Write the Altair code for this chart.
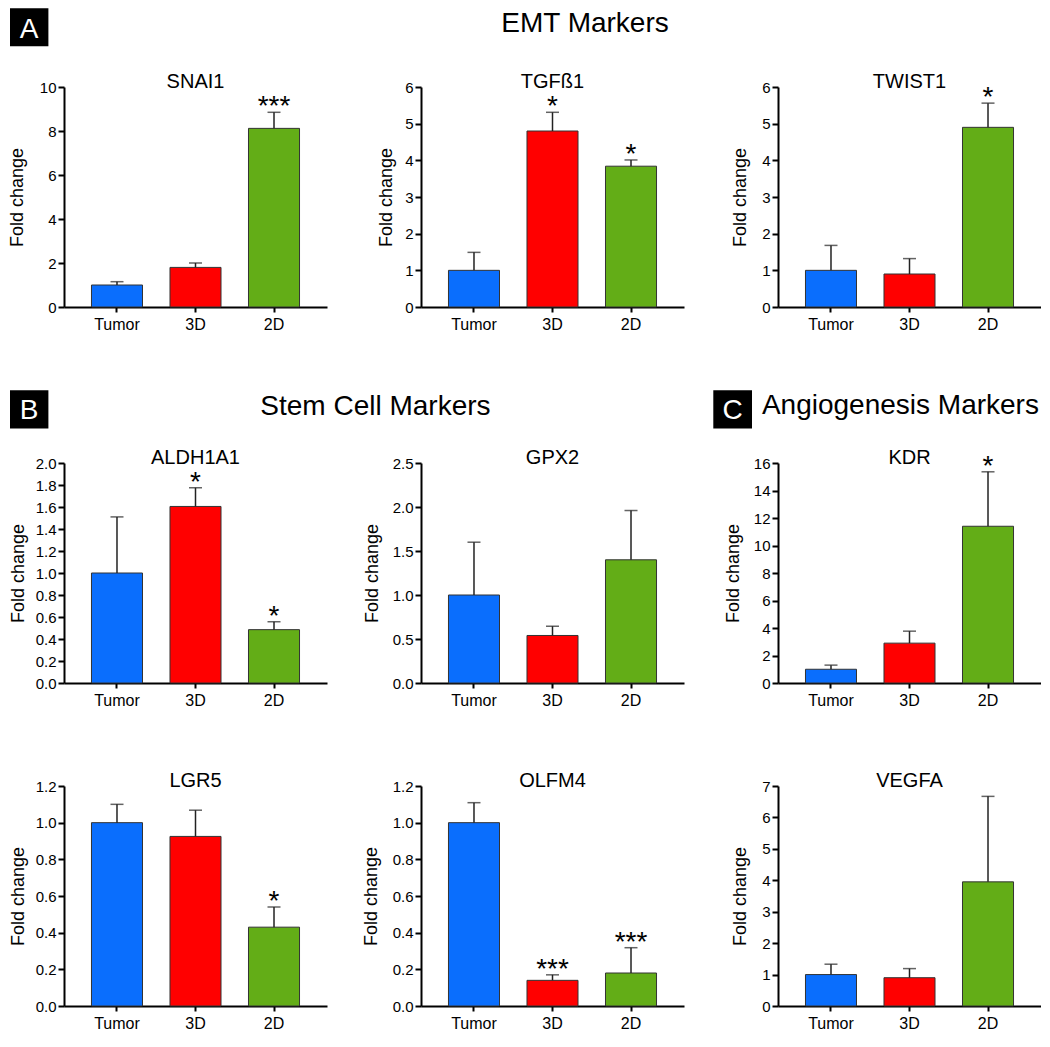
import altair as alt
import pandas as pd

GROUPS = ["Tumor", "3D", "2D"]
COLORS = ["#0A6EFD", "#FF0000", "#63AD17"]
Y_TITLE = "Fold change"
HEADERS = ["A", "EMT Markers", "B", "Stem Cell Markers", "C", "Angiogenesis Markers"]

# values: bar mean and top of error bar
SNAI1_MEAN = [1.0, 1.8, 8.12]
SNAI1_UPPER = [1.15, 2.0, 8.85]
SNAI1_SIG = ["", "", "***"]

TGFB1_MEAN = [1.0, 4.8, 3.84]
TGFB1_UPPER = [1.49, 5.31, 4.01]
TGFB1_SIG = ["", "*", "*"]

TWIST1_MEAN = [1.0, 0.9, 4.9]
TWIST1_UPPER = [1.68, 1.32, 5.56]
TWIST1_SIG = ["", "", "*"]

ALDH1A1_MEAN = [1.0, 1.605, 0.485]
ALDH1A1_UPPER = [1.51, 1.775, 0.557]
ALDH1A1_SIG = ["", "*", "*"]

GPX2_MEAN = [1.0, 0.54, 1.40]
GPX2_UPPER = [1.60, 0.645, 1.96]
GPX2_SIG = ["", "", ""]

KDR_MEAN = [1.0, 2.9, 11.4]
KDR_UPPER = [1.3, 3.77, 15.36]
KDR_SIG = ["", "", "*"]

LGR5_MEAN = [1.0, 0.925, 0.43]
LGR5_UPPER = [1.10, 1.068, 0.54]
LGR5_SIG = ["", "", "*"]

OLFM4_MEAN = [1.0, 0.14, 0.18]
OLFM4_UPPER = [1.109, 0.17, 0.318]
OLFM4_SIG = ["", "***", "***"]

VEGFA_MEAN = [1.0, 0.9, 3.95]
VEGFA_UPPER = [1.33, 1.19, 6.67]
VEGFA_SIG = ["", "", ""]

W, H, EXTRA = 263, 220, 53
FONT = "Liberation Sans"
ERR = "#222222"


def one_text(t, x, y, size, color="black", align="center"):
    return alt.Chart(pd.DataFrame({"t": [t]})).mark_text(
        font=FONT, fontSize=size, color=color, align=align, baseline="alphabetic"
    ).encode(x=alt.value(x), y=alt.value(y), text="t:N")


def box(tag, x1, x2, y1, y2):
    return alt.Chart(pd.DataFrame({"t": [tag]})).mark_rect(color="black").encode(
        x=alt.value(x1), x2=alt.value(x2), y=alt.value(y1), y2=alt.value(y2)
    )


def panel(name, mean, upper, sig, ymax, step, fmt, title_x, top=0, extras=()):
    df = pd.DataFrame({"group": GROUPS, "mean": mean, "upper": upper, "sig": sig})
    n = int(round(ymax / step))
    ticks = [round(i * step, 2) for i in range(n + 1)]
    h = H + top
    yscale = alt.Scale(domain=[0, ymax], nice=False, zero=True, range=[h, top])
    yaxis = alt.Axis(
        values=ticks, format=fmt, title=Y_TITLE, titleX=title_x, titleY=top + H / 2,
        titleAngle=270, titleAlign="center", titleBaseline="bottom",
        labelFontSize=15, titleFontSize=18, tickSize=6, labelPadding=2,
    )
    x = alt.X(
        "group:N", sort=GROUPS,
        scale=alt.Scale(paddingInner=0.35, paddingOuter=0.35),
        axis=alt.Axis(title=None, labelAngle=0, labelFontSize=16, tickSize=5, labelPadding=4),
    )
    base = alt.Chart(df)
    bars = base.mark_bar(stroke="#333333", strokeWidth=1).encode(
        x=x,
        y=alt.Y("mean:Q", scale=yscale, axis=yaxis),
        color=alt.Color("group:N", scale=alt.Scale(domain=GROUPS, range=COLORS), legend=None),
    )
    err = base.mark_rule(color=ERR, strokeWidth=1.5).encode(
        x=x, y=alt.Y("mean:Q", scale=yscale, axis=yaxis), y2="upper:Q"
    )
    cap = base.mark_tick(color=ERR, thickness=1.5, size=13).encode(
        x=x, y=alt.Y("upper:Q", scale=yscale, axis=yaxis)
    )
    stars = base.mark_text(font=FONT, fontSize=28, dy=3, baseline="alphabetic", color="black").encode(
        x=x, y=alt.Y("upper:Q", scale=yscale, axis=yaxis), text="sig:N"
    )
    title = one_text(name, W / 2, top + 1, 20)
    return alt.layer(bars, err, cap, stars, title, *extras).properties(width=W, height=h)


p1 = panel("SNAI1", SNAI1_MEAN, SNAI1_UPPER, SNAI1_SIG, 10, 2, "d", -38,
           extras=(box("A", -54, -15.6, -78.7, -40.7),
                   one_text(HEADERS[0], -34.8, -48.8, 28, color="white")))
p2 = panel("TGFß1", TGFB1_MEAN, TGFB1_UPPER, TGFB1_SIG, 6, 1, "d", -26,
           extras=(one_text(HEADERS[1], 164, -55.3, 28),))
p3 = panel("TWIST1", TWIST1_MEAN, TWIST1_UPPER, TWIST1_SIG, 6, 1, "d", -29)

p4 = panel("ALDH1A1", ALDH1A1_MEAN, ALDH1A1_UPPER, ALDH1A1_SIG, 2.0, 0.2, ".1f", -37, top=EXTRA,
           extras=(box("B", -54, -15.6, -19.8, 18.5),
                   one_text(HEADERS[2], -34.8, 9.1, 28, color="white"),
                   one_text(HEADERS[3], 311.4, 4.6, 28)))
p5 = panel("GPX2", GPX2_MEAN, GPX2_UPPER, GPX2_SIG, 2.5, 0.5, ".1f", -40, top=EXTRA)
p6 = panel("KDR", KDR_MEAN, KDR_UPPER, KDR_SIG, 16, 2, "d", -36, top=EXTRA,
           extras=(box("C", -64.7, -26, -19.8, 18.5),
                   one_text(HEADERS[4], -45.3, 9.1, 28, color="white"),
                   one_text(HEADERS[5], -16.1, 3.5, 28, align="left")))

p7 = panel("LGR5", LGR5_MEAN, LGR5_UPPER, LGR5_SIG, 1.2, 0.2, ".1f", -37)
p8 = panel("OLFM4", OLFM4_MEAN, OLFM4_UPPER, OLFM4_SIG, 1.2, 0.2, ".1f", -41)
p9 = panel("VEGFA", VEGFA_MEAN, VEGFA_UPPER, VEGFA_SIG, 7, 1, "d", -29)

chart = alt.concat(
    p1, p2, p3, p4, p5, p6, p7, p8, p9,
    columns=3,
    spacing={"row": 103, "column": 94},
    bounds="flush",
    padding=0,
).configure_view(stroke=None).configure_axis(
    domainColor="black", domainWidth=2, tickColor="black", tickWidth=2,
    labelColor="black", titleColor="black", labelFont=FONT, titleFont=FONT,
    titleFontWeight="normal", grid=False,
)

chart.save("out.html", embed_options={"renderer": "svg", "actions": False})
